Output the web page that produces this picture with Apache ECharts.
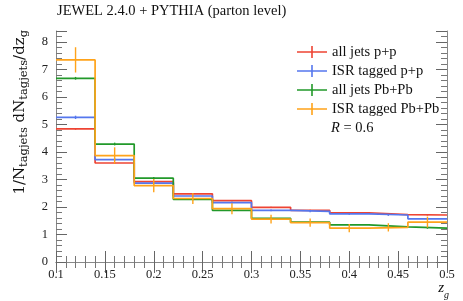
<!DOCTYPE html>
<html><head><meta charset="utf-8">
<script src="https://cdn.jsdelivr.net/npm/echarts@6/dist/echarts.min.js"></script>
<style>html,body{margin:0;padding:0;background:#fff}#c{width:463px;height:301px}</style>
</head><body><div id="c"></div>
<script>
const binEdges = [0.1,0.14,0.18,0.22,0.26,0.30,0.34,0.38,0.42,0.46,0.50];
const seriesNames = ['all jets p+p','ISR tagged p+p','all jets Pb+Pb','ISR tagged Pb+Pb'];
const allPP      = [4.84,3.60,2.92,2.48,2.23,1.99,1.88,1.79,1.72,1.71];
const allPPErr   = [0.03,0.03,0.03,0.02,0.02,0.02,0.02,0.02,0.02,0.02];
const isrPP      = [5.26,3.72,2.87,2.40,2.16,1.88,1.84,1.75,1.71,1.57];
const isrPPErr   = [0.06,0.05,0.04,0.03,0.03,0.03,0.03,0.03,0.03,0.03];
const allPbPb    = [6.68,4.29,3.05,2.28,1.88,1.59,1.45,1.35,1.28,1.23];
const allPbPbErr = [0.05,0.05,0.04,0.03,0.03,0.03,0.02,0.02,0.02,0.02];
const isrPbPb    = [7.35,3.87,2.78,2.31,1.94,1.56,1.43,1.23,1.26,1.45];
const isrPbPbErr = [0.46,0.30,0.24,0.20,0.20,0.16,0.15,0.15,0.15,0.20];
const xTickLabels = ['0.1','0.15','0.2','0.25','0.3','0.35','0.4','0.45','0.5'];
const yTickLabels = ['0','1','2','3','4','5','6','7','8'];

const colors = ['#ee4433','#5577ee','#22992a','#ffa31a'];
const values = [allPP, isrPP, allPbPb, isrPbPb];
const errors = [allPPErr, isrPPErr, allPbPbErr, isrPbPbErr];
const FONT = 'Liberation Serif';

function stepData(v){
  const d = v.map((y,i)=>[binEdges[i], y]);
  d.push([binEdges[binEdges.length-1], v[v.length-1]]);
  return d;
}
function errData(v,e){
  return v.map((y,i)=>[(binEdges[i]+binEdges[i+1])/2, y, e[i]]);
}
const series = [];
values.forEach((v,k)=>{
  series.push({
    name: seriesNames[k], type:'line', step:'end', data: stepData(v),
    symbol:'none', lineStyle:{color:colors[k], width:1.7}, itemStyle:{color:colors[k]},
    z: 2+k, animation:false
  });
});
values.forEach((v,k)=>{
  series.push({
    type:'custom', data: errData(v, errors[k]), z: 2+k, animation:false,
    renderItem:(params, api)=>{
      const x = api.value(0), y = api.value(1), e = api.value(2);
      const p1 = api.coord([x, y-e]), p2 = api.coord([x, y+e]);
      return {type:'line', shape:{x1:p1[0], y1:p1[1], x2:p2[0], y2:p2[1]},
        style:{stroke: colors[k], lineWidth:1.4}};
    }
  });
});

const crossIcon = 'path://M0,5.2H30V6.8H0Z M14.2,0H15.8V12H14.2Z';
const axisCommon = {
  axisLine:{show:true, lineStyle:{color:'#888', width:1}},
  axisTick:{show:true, inside:true, length:11, lineStyle:{color:'#666'}},
  minorTick:{show:true, splitNumber:5, length:6, lineStyle:{color:'#777'}},
  splitLine:{show:false}
};
const chart = echarts.init(document.getElementById('c'), null, {renderer:'canvas'});
chart.setOption({
  animation:false,
  backgroundColor:'#fff',
  grid:{left:56, right:16, top:31, bottom:39},
  xAxis:[
    Object.assign({type:'value', min:0.1, max:0.5, interval:0.05, position:'bottom',
      axisLabel:{color:'#222', fontFamily:FONT, fontSize:12.5, margin:6,
        formatter:(val)=>{const i=Math.round((val-0.1)/0.05); return xTickLabels[i]||'';}}}, axisCommon),
    Object.assign({type:'value', min:0.1, max:0.5, interval:0.05, position:'top',
      axisLabel:{show:false}}, axisCommon)
  ],
  yAxis:[
    Object.assign({type:'value', min:0, max:8.4, interval:1, position:'left',
      axisLabel:{color:'#222', fontFamily:FONT, fontSize:12.5, margin:8,
        formatter:(val)=>yTickLabels[Math.round(val)]||'', showMaxLabel:false}}, axisCommon),
    Object.assign({type:'value', min:0, max:8.4, interval:1, position:'right',
      axisLabel:{show:false}}, axisCommon)
  ],
  legend:{
    orient:'vertical', left:292, top:39, itemWidth:30, itemHeight:12, itemGap:3,
    data: seriesNames.map((n,k)=>({name:n, icon:crossIcon, itemStyle:{color:colors[k]}})),
    textStyle:{fontFamily:FONT, fontSize:14.5, color:'#111', lineHeight:16},
    selectedMode:false
  },
  graphic:[
    {type:'text', left:57, top:4, style:{text:'JEWEL 2.4.0 + PYTHIA (parton level)', font:'14.5px "Liberation Serif"', fill:'#111'}},
    {type:'text', left:331, top:121, style:{text:'{i|R} = 0.6', font:'14.5px "Liberation Serif"', fill:'#111',
      rich:{i:{fontStyle:'italic', fontFamily:FONT, fontSize:14.5}}}},
    {type:'text', right:14, top:281, style:{text:'{i|z}{s|g}', fill:'#111',
      rich:{i:{fontStyle:'italic', fontFamily:FONT, fontSize:15, lineHeight:16, verticalAlign:'top'},
            s:{fontStyle:'italic', fontFamily:FONT, fontSize:10, lineHeight:16, padding:[9,0,0,0], verticalAlign:'top'}}}},
    {type:'text', x:20, y:30, rotation:Math.PI/2,
      style:{text:'1/N{s|tagjets} dN{s|tagjets}/dz{s|g}', align:'right', verticalAlign:'middle',
        font:'15px "DejaVu Serif"', fill:'#111',
        rich:{s:{fontFamily:'DejaVu Serif', fontSize:11.5, padding:[9,0,0,0]}}}}
  ],
  series: series
});
</script></body></html>
